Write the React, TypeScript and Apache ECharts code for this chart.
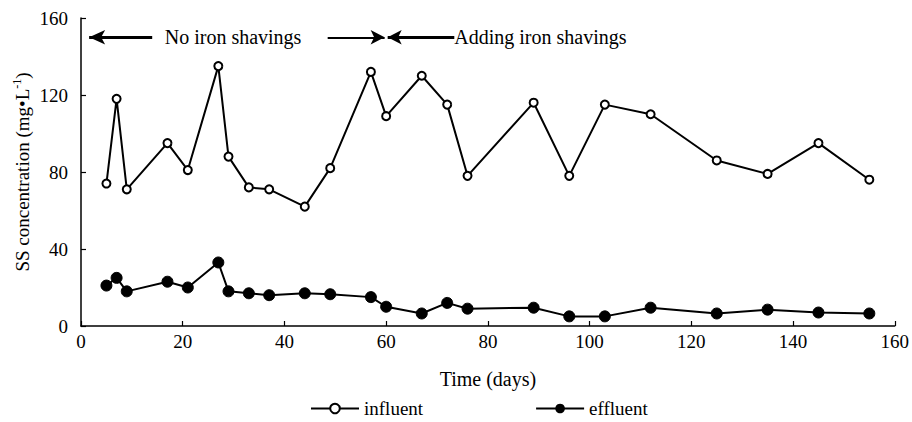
import React, { useEffect, useRef } from "react";
import * as echarts from "echarts";

const days = [5, 7, 9, 17, 21, 27, 29, 33, 37, 44, 49, 57, 60, 67, 72, 76, 89, 96, 103, 112, 125, 135, 145, 155];
const influent = [74, 118, 71, 95, 81, 135, 88, 72, 71, 62, 82, 132, 109, 130, 115, 78, 116, 78, 115, 110, 86, 79, 95, 76];
const effluent = [21, 25, 18, 23, 20, 33, 18, 17, 16, 17, 16.5, 15, 10, 6.5, 12, 9, 9.5, 5, 5, 9.5, 6.5, 8.5, 7, 6.5];
const xTicks = [0, 20, 40, 60, 80, 100, 120, 140, 160];
const yTicks = [0, 40, 80, 120, 160];
const phaseDay = 60;
const phaseLabels = ["No iron shavings", "Adding iron shavings"];

const FONT = "Liberation Serif";

export default function App() {
  const ref = useRef<HTMLDivElement>(null);
  useEffect(() => {
    if (!ref.current) return;
    const chart = echarts.init(ref.current, undefined, { renderer: "svg" });
    const arrowLine = { color: "#000", width: 3, type: "solid" as const };
    chart.setOption({
      animation: false,
      backgroundColor: "#fff",
      textStyle: { fontFamily: FONT, color: "#000" },
      grid: { left: 81, right: 12, top: 18, bottom: 96 },
      legend: {
        top: 394,
        left: 305,
        itemWidth: 48,
        itemHeight: 12,
        itemGap: 112,
        textStyle: { fontFamily: FONT, fontSize: 19, color: "#000" },
        data: ["influent", "effluent"],
      },
      xAxis: {
        type: "value",
        min: xTicks[0],
        max: xTicks[xTicks.length - 1],
        interval: 20,
        name: "Time (days)",
        nameLocation: "middle",
        nameGap: 43,
        nameMoveOverlap: false,
        nameTextStyle: { fontFamily: FONT, fontSize: 20, color: "#000" },
        axisLine: { show: true, lineStyle: { color: "#000", width: 1.5 } },
        axisTick: { show: true, inside: true, length: 5, lineStyle: { color: "#000", width: 1.2 } },
        axisLabel: { fontFamily: FONT, fontSize: 19, color: "#000", margin: 6 },
        splitLine: { show: false },
      },
      yAxis: {
        type: "value",
        min: yTicks[0],
        max: yTicks[yTicks.length - 1],
        interval: 40,
        name: "SS concentration (mg•L{sup|-1})",
        nameLocation: "middle",
        nameGap: 48,
        nameMoveOverlap: false,
        nameRotate: 90,
        nameTextStyle: {
          fontFamily: FONT,
          fontSize: 19,
          color: "#000",
          rich: {
            sup: { fontFamily: FONT, fontSize: 12, color: "#000", verticalAlign: "top", padding: [0, 0, 10, 0] },
          },
        },
        axisLine: { show: true, lineStyle: { color: "#000", width: 1.5 } },
        axisTick: { show: true, inside: true, length: 5, lineStyle: { color: "#000", width: 1.2 } },
        axisLabel: { fontFamily: FONT, fontSize: 19, color: "#000", margin: 13 },
        splitLine: { show: false },
      },
      series: [
        {
          name: "influent",
          type: "line",
          data: days.map((d, i) => [d, influent[i]]),
          symbol: "emptyCircle",
          symbolSize: 8,
          lineStyle: { color: "#000", width: 2 },
          itemStyle: { color: "#000", borderColor: "#000", borderWidth: 2 },
          z: 3,
          markLine: {
            silent: true,
            animation: false,
            label: { show: false },
            data: [
              [
                { coord: [phaseDay, 0], symbol: "none", lineStyle: { color: "#000", width: 1.8, type: [8, 3, 2, 3] } },
                { coord: [phaseDay, 161.5], symbol: "none" },
              ],
              [
                { coord: [1.6, 150], symbol: "arrow", symbolSize: [11, 16], lineStyle: arrowLine },
                { coord: [14, 150], symbol: "none" },
              ],
              [
                { coord: [48.5, 150], symbol: "none", lineStyle: { color: "#000", width: 2, type: "solid" } },
                { coord: [59.7, 150], symbol: "arrow", symbolSize: [11, 14] },
              ],
              [
                { coord: [60.3, 150], symbol: "arrow", symbolSize: [11, 14], lineStyle: arrowLine },
                { coord: [73.4, 150], symbol: "none" },
              ],
            ],
          },
          markPoint: {
            silent: true,
            animation: false,
            data: [
              {
                coord: [29.9, 150],
                symbol: "rect",
                symbolSize: 0,
                label: { show: true, position: "inside", formatter: phaseLabels[0], fontFamily: FONT, fontSize: 20, color: "#000" },
              },
              {
                coord: [73.4, 150],
                symbol: "rect",
                symbolSize: 0,
                label: { show: true, position: "right", distance: 0, formatter: phaseLabels[1], fontFamily: FONT, fontSize: 20, color: "#000" },
              },
            ],
          },
        },
        {
          name: "effluent",
          type: "line",
          data: days.map((d, i) => [d, effluent[i]]),
          symbol: "circle",
          symbolSize: 11,
          lineStyle: { color: "#000", width: 2 },
          itemStyle: { color: "#000", borderColor: "#000" },
          z: 3,
        },
      ],
    });
    return () => chart.dispose();
  }, []);
  return <div ref={ref} style={{ position: "fixed", left: 0, top: 0, width: 912, height: 422 }} />;
}
